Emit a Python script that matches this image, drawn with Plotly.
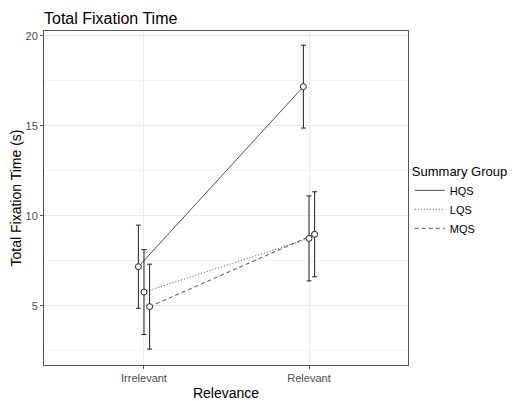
import plotly.graph_objects as go

categories = ["Irrelevant", "Relevant"]
groups = ["HQS", "LQS", "MQS"]
means = {
    "HQS": [7.17, 17.17],
    "LQS": [5.76, 8.74],
    "MQS": [4.95, 8.97],
}
errors = {
    "HQS": [2.31, 2.30],
    "LQS": [2.36, 2.36],
    "MQS": [2.36, 2.36],
}
dashes = {"HQS": "solid", "LQS": "1px,2px", "MQS": "4px,3px"}
dodge = {"HQS": -0.034, "LQS": 0.0, "MQS": 0.034}

fig = go.Figure()
for g in groups:
    xs = [i + 1 + dodge[g] for i in range(len(categories))]
    fig.add_trace(go.Scatter(
        x=xs, y=means[g], mode="lines", name=g,
        line=dict(color="#222222", width=0.8, dash=dashes[g]),
        legendgroup=g,
    ))
for g in groups:
    xs = [i + 1 + dodge[g] for i in range(len(categories))]
    fig.add_trace(go.Scatter(
        x=xs, y=means[g], mode="markers", showlegend=False, legendgroup=g,
        marker=dict(symbol="circle", size=6, color="white",
                    line=dict(color="#222222", width=1)),
        error_y=dict(type="data", array=errors[g], visible=True,
                     color="#222222", thickness=1, width=2.5),
    ))

# the page body has an 8px default margin, so the figure is sized to fit the window
W, H = 514, 393
fig.update_layout(
    width=W, height=H,
    margin=dict(l=36, r=114, t=23, b=36, autoexpand=False),
    paper_bgcolor="white", plot_bgcolor="white",
    font=dict(family="Liberation Sans, Arial, sans-serif", color="black"),
    title=dict(text="Total Fixation Time", x=36/W, xanchor="left",
               y=1 - 10/H, yanchor="middle", font=dict(size=16, color="black")),
    xaxis=dict(
        range=[0.394, 2.6], tickvals=[1, 2], ticktext=categories,
        showgrid=True, gridcolor="#ebebeb", gridwidth=1,
        showline=True, linecolor="#555555", linewidth=1, mirror=True,
        ticks="outside", ticklen=3, tickcolor="#555555",
        tickfont=dict(size=11, color="#4d4d4d"),
        title=dict(text="Relevance", font=dict(size=14, color="black"), standoff=4),
        zeroline=False,
    ),
    yaxis=dict(
        range=[1.71, 20.26], tickvals=[5, 10, 15, 20],
        showgrid=True, gridcolor="#ebebeb", gridwidth=1,
        minor=dict(tickvals=[2.5, 7.5, 12.5, 17.5], showgrid=True,
                   gridcolor="#f4f4f4", gridwidth=1),
        showline=True, linecolor="#555555", linewidth=1, mirror=True,
        ticks="outside", ticklen=3, tickcolor="#555555",
        tickfont=dict(size=11, color="#4d4d4d"),
        title=dict(text="Total Fixation Time (s)", font=dict(size=14, color="black"), standoff=2),
        zeroline=False,
    ),
    legend=dict(
        title=dict(text="Summary Group", font=dict(size=13, color="black")),
        x=1.005, xanchor="left", y=0.617, yanchor="top",
        font=dict(size=11, color="black"),
        tracegroupgap=0, itemwidth=30,
        bgcolor="rgba(0,0,0,0)",
    ),
)

fig.write_html("out.html")
